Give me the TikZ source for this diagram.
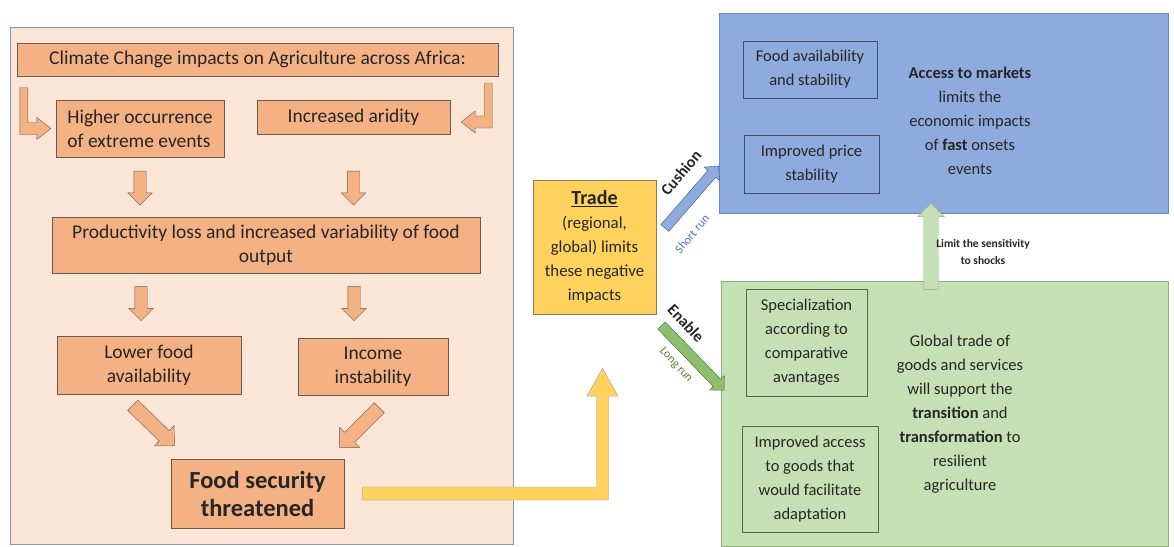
\documentclass[tikz,border=0pt]{standalone}
\usepackage{fontspec}
\setmainfont{Carlito}
\usepackage{tikz}
\usetikzlibrary{calc}
\usetikzlibrary{shapes,shapes.arrows}
\usetikzlibrary{positioning}
\definecolor{panelfill}{HTML}{FBE5D6}
\definecolor{panelline}{HTML}{8497B0}
\definecolor{orfill}{HTML}{F4B183}
\definecolor{orline}{HTML}{6B5A50}
\definecolor{tradefill}{HTML}{FFD25E}
\definecolor{tradeline}{HTML}{8C7A55}
\definecolor{bluefill}{HTML}{8FAADC}
\definecolor{blueline}{HTML}{6A88C0}
\definecolor{bluein}{HTML}{3F4F70}
\definecolor{greenfill}{HTML}{C5E0B4}
\definecolor{greenline}{HTML}{8FAF7F}
\definecolor{greenin}{HTML}{4F6A45}
\definecolor{cushline}{HTML}{2F5597}
\definecolor{enfill}{HTML}{8DBF6E}
\definecolor{enline}{HTML}{3F6A2A}
\definecolor{shortc}{HTML}{4472C4}
\definecolor{longc}{HTML}{548235}
\definecolor{txt}{HTML}{262626}

\begin{document}
\begin{tikzpicture}[x=1pt,y=-1pt,text=txt,
		obox/.style={rectangle,draw=orline,fill=orfill,align=center,inner sep=2pt,font=\fontsize{19.5}{24}\selectfont},
		bbox/.style={rectangle,draw=bluein,align=center,inner sep=2pt,font=\fontsize{16.5}{24}\selectfont},
		gbox/.style={rectangle,draw=greenin,align=center,inner sep=2pt,font=\fontsize{16.5}{24}\selectfont},
		btext/.style={align=center,font=\fontsize{16.5}{24}\selectfont},
		barrow/.style={single arrow,draw=orline,fill=orfill,single arrow head indent=0pt},
		darrow/.style={barrow,inner sep=6pt,single arrow head extend=6pt,minimum width=24pt,minimum height=34pt,rotate=-90},
		bent/.style={draw=orline,fill=orfill,line join=miter},
		tag/.style={font=\bfseries\fontsize{16}{18}\selectfont},
		runtag/.style={font=\fontsize{12}{14}\selectfont}]
		\useasboundingbox (0,0) rectangle (1174,546);
		
		% left panel
		\node[rectangle,draw=panelline,fill=panelfill,minimum width=503pt,minimum height=517pt,inner sep=0pt] (panel) at (261.5,285.5) {};
		\node[obox,minimum width=481pt,minimum height=33pt] (title) at (257.5,59.5) {Climate Change impacts on Agriculture across Africa:};
		\node[obox,minimum width=168pt,minimum height=57pt,align=left] (hoe) at (140,128.5) {Higher occurrence\\of extreme events};
		\node[obox,minimum width=193pt,minimum height=34pt] (arid) at (353.5,117) {Increased aridity};
		\node[obox,minimum width=428pt,minimum height=56pt] (prod) at (266,245) {Productivity loss and increased variability of food\\output};
		\node[obox,minimum width=184pt,minimum height=58pt] (lowfood) at (149,365) {Lower food\\availability};
		\node[obox,minimum width=150pt,minimum height=57pt] (income) at (373,366.5) {Income\\instability};
		\node[obox,minimum width=173pt,minimum height=69pt,font=\bfseries\fontsize{24.5}{28}\selectfont] (foodsec) at (257.5,493.5) {Food security\\threatened};
		
		\draw[bent] ([xshift=-5pt]hoe.west) -- ++(-14,-11) -- ++(0,5) -- ++(-9,0) -- ++(0,-35) -- ++(-8,0) -- ++(0,47) -- ++(17,0) -- ++(0,5) -- cycle;
		\draw[bent] ([xshift=11pt,yshift=-5pt]arid.east) -- ++(14,-11) -- ++(0,5) -- ++(9,0) -- ++(0,-33) -- ++(8,0) -- ++(0,45) -- ++(-17,0) -- ++(0,5) -- cycle;
		
		\node[darrow] (a1) at (140,185) {};
		\node[darrow] (a2) at (a1 -| arid) {};
		\node[darrow] (a3) at (141,300.5) {};
		\node[darrow] (a4) at (354,300.5) {};
		\node[barrow,inner sep=7pt,single arrow head extend=7pt,minimum width=28pt,minimum height=58pt,rotate=-44] (a5) at (151,423) {};
		\node[barrow,inner sep=7pt,single arrow head extend=7pt,minimum width=28pt,minimum height=56pt,rotate=-135] (a6) at (362,425) {};
		
		% trade
		\node[rectangle,draw=tradeline,fill=tradefill,minimum width=123pt,minimum height=134pt,align=center,font=\fontsize{16.8}{24}\selectfont] (trade) at (594.5,247)
			{{\bfseries\fontsize{20}{24}\selectfont\underline{Trade}}\\(regional,\\global) limits\\these negative\\impacts};
		\coordinate (ys) at ([xshift=18pt]foodsec.east);
		\coordinate (yt) at ([xshift=8pt,yshift=-54pt]trade.south);
		\draw[draw=gray!80,fill=tradefill] let \p1=(ys), \p2=(yt) in
			(\x1,\y1+6.5pt) -- (\x2-6pt,\y1+6.5pt) -- (\x2-6pt,\y2-28pt) -- (\x2-15.5pt,\y2-28pt) -- (\x2,\y2)
			-- (\x2+15.5pt,\y2-28pt) -- (\x2+6pt,\y2-28pt) -- (\x2+6pt,\y1-6.5pt) -- (\x1,\y1-6.5pt) -- cycle;
		
		% short run
		\node[rectangle,draw=blueline,fill=bluefill,minimum width=449pt,minimum height=200pt,inner sep=0pt] (fast) at (943.5,113) {};
		\node[bbox,minimum width=134pt,minimum height=57pt] (favail) at (810,69.5) {Food availability\\and stability};
		\node[bbox,minimum width=135pt,minimum height=58pt] (price) at (811.5,164) {Improved price\\stability};
		\node[btext] (access) at (970,121) {\textbf{Access to markets}\\limits the\\economic impacts\\of \textbf{fast} onsets\\events};
		
		% long run
		\node[rectangle,draw=greenline,fill=greenfill,minimum width=447pt,minimum height=265pt,inner sep=0pt] (slow) at (944.5,413.5) {};
		\node[gbox,minimum width=121pt,minimum height=107pt] (spec) at (806.5,342.5) {Specialization\\according to\\comparative\\avantages};
		\node[gbox,minimum width=136pt,minimum height=106pt] (adapt) at (810,479) {Improved access\\to goods that\\would facilitate\\adaptation};
		\node[btext] (global) at (960,414) {Global trade of\\goods and services\\will support the\\\textbf{transition} and\\\textbf{transformation} to\\resilient\\agriculture};
		
		\node[barrow,draw=greenline,fill=greenfill,inner sep=7pt,single arrow head extend=6pt,minimum width=26pt,minimum height=86pt,rotate=90] (up) at (931,250) {};
		\node[align=center,font=\bfseries\fontsize{11.5}{17}\selectfont] (limit) at (983,252) {Limit the sensitivity\\to shocks};
		
		\node[barrow,draw=cushline,fill=bluefill,inner sep=5pt,single arrow head extend=5pt,minimum width=20pt,minimum height=82pt,rotate=49] (cush) at (690,199) {};
		\node[barrow,draw=enline,fill=enfill,inner sep=5pt,single arrow head extend=5pt,minimum width=20pt,minimum height=90pt,rotate=-46] (enab) at (691,356) {};
		\node[tag,rotate=50] (cushlbl) at (681,173) {Cushion};
		\node[runtag,rotate=50,text=shortc] (shortlbl) at (692,234) {Short run};
		\node[tag,rotate=-47] (enlbl) at (686,323) {Enable};
		\node[runtag,rotate=-47,text=longc] (longlbl) at (676,365) {Long run};
\end{tikzpicture}
\end{document}
